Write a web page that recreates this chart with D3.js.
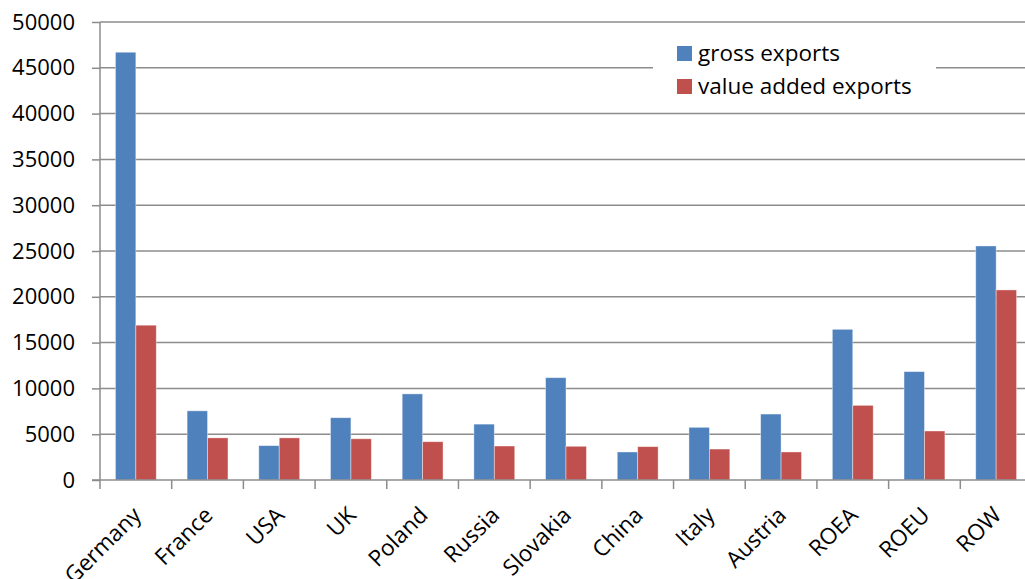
<!DOCTYPE html>
<html>
<head>
<meta charset="utf-8">
<script src="https://cdn.jsdelivr.net/npm/d3@7"></script>
<style>
  body { margin: 0; background: #fff; }
  svg { display: block; font-family: "Open Sans", sans-serif; }
</style>
</head>
<body>
<div id="chart"></div>
<script>
const countries = ["Germany", "France", "USA", "UK", "Poland", "Russia", "Slovakia",
  "China", "Italy", "Austria", "ROEA", "ROEU", "ROW"];
const series = ["gross exports", "value added exports"];
const grossExports = [46700, 7550, 3750, 6800, 9400, 6100, 11170, 3060, 5750, 7200, 16450, 11830, 25550];
const valueAddedExports = [16900, 4600, 4600, 4500, 4180, 3710, 3680, 3640, 3380, 3060, 8150, 5350, 20750];
const yTicks = [0, 5000, 10000, 15000, 20000, 25000, 30000, 35000, 40000, 45000, 50000];
const colors = ["#4f81bd", "#c0504d"];

const W = 1025, H = 579;
const margin = {top: 22, right: -7, bottom: 99, left: 100};
const innerW = W - margin.left - margin.right,
  innerH = H - margin.top - margin.bottom;

const rows = countries.map((c, i) => ({country: c, values: [grossExports[i], valueAddedExports[i]]}));

const svg = d3.select("#chart").append("svg")
  .attr("width", W).attr("height", H);
const g = svg.append("g").attr("transform", `translate(${margin.left},${margin.top})`);

const x0 = d3.scaleBand().domain(countries).range([0, innerW])
  .paddingInner(0.43).paddingOuter(0.215);
const x1 = d3.scaleBand().domain([0, 1]).range([0, x0.bandwidth()]).padding(0);
const y = d3.scaleLinear().domain([0, 50000]).range([innerH, 0]);

// gridlines
g.append("g").selectAll("line")
  .data(yTicks.filter(d => d > 0))
  .enter().append("line")
  .attr("x1", 0).attr("x2", innerW + 10)
  .attr("y1", d => y(d)).attr("y2", d => y(d))
  .attr("stroke", "#8c8c8c").attr("stroke-width", 1.5);

// bars
const groups = g.append("g").selectAll("g")
  .data(rows).enter().append("g")
  .attr("transform", d => `translate(${x0(d.country)},0)`);
groups.selectAll("rect")
  .data(d => d.values.map((v, k) => ({k: k, v: v})))
  .enter().append("rect")
  .attr("x", d => x1(d.k))
  .attr("width", x1.bandwidth())
  .attr("y", d => y(d.v))
  .attr("height", d => innerH - y(d.v))
  .attr("fill", d => colors[d.k])
  .attr("stroke", "#ffffff").attr("stroke-opacity", 0.5).attr("stroke-width", 0.8);

// y axis
const yAxis = g.append("g")
  .call(d3.axisLeft(y).tickValues(yTicks).tickSize(8).tickPadding(17).tickFormat(d3.format("d")));
yAxis.select(".domain").attr("stroke", "#8c8c8c").attr("stroke-width", 1.5)
  .attr("d", `M0,${innerH}V0`);
yAxis.selectAll(".tick line").attr("stroke", "#8c8c8c").attr("stroke-width", 1.5);
yAxis.selectAll(".tick text").attr("font-size", 22).attr("fill", "#000")
  .attr("font-family", "Open Sans, sans-serif");

// x axis
const xStep = x0.step();
const xTickPos = d3.range(countries.length + 1).map(i => i * xStep);
const xAxis = g.append("g").attr("transform", `translate(0,${innerH})`);
xAxis.append("line").attr("x1", -8).attr("x2", innerW + 10)
  .attr("stroke", "#8c8c8c").attr("stroke-width", 1.5);
xAxis.selectAll(".xt").data(xTickPos).enter().append("line")
  .attr("x1", d => d).attr("x2", d => d).attr("y1", 0).attr("y2", 9)
  .attr("stroke", "#8c8c8c").attr("stroke-width", 1.5);
xAxis.selectAll(".xl").data(countries).enter().append("text")
  .attr("transform", d => `translate(${x0(d) + x0.bandwidth() / 2 + 1},${31}) rotate(-45)`)
  .attr("text-anchor", "end")
  .attr("dy", "0.35em")
  .attr("font-size", 22.5)
  .text(d => d);

// legend
const legend = svg.append("g");
legend.append("rect").attr("x", 653).attr("y", 40).attr("width", 283).attr("height", 62).attr("fill", "#fff");
const li = legend.selectAll(".li").data(series).enter().append("g")
  .attr("transform", (d, i) => `translate(677,${46 + i * 33})`);
li.append("rect").attr("width", 15).attr("height", 15).attr("fill", (d, i) => colors[i]);
li.append("text").attr("x", 21).attr("y", 7.5).attr("dy", "0.35em")
  .attr("font-size", 22.5).text(d => d);
</script>
</body>
</html>
